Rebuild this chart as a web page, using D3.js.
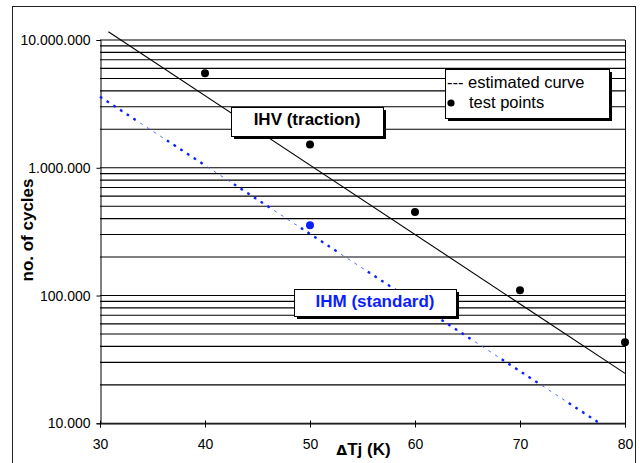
<!DOCTYPE html>
<html>
<head>
<meta charset="utf-8">
<script src="https://cdn.jsdelivr.net/npm/d3@7"></script>
<style>
  body { margin: 0; background: #fff; }
  svg { display: block; font-family: "Liberation Sans", Arial, sans-serif; }
</style>
</head>
<body>
<svg id="chart" width="640" height="463"></svg>
<script>
// test points (IHV traction modules)
var testDT = [40, 50, 60, 70, 80];
var testCycles = [5500000, 1520000, 450000, 110000, 43000];
// test point for the standard module
var stdDT = [50];
var stdCycles = [355000];
// estimated curves (end points, straight in log scale)
var ihvDT = [30.8, 80];
var ihvCycles = [11600000, 24600];
var ihmDT = [30, 77.6];
var ihmCycles = [3600000, 10000];
// axis ticks
var xTicks = [30, 40, 50, 60, 70, 80];
var yTicks = [10000, 100000, 1000000, 10000000];

var svg = d3.select("#chart");
var blue = "#0a1eff";

// outer chart frame
svg.append("rect").attr("x", 12.5).attr("y", 6.5).attr("width", 623).attr("height", 480)
  .attr("fill", "#fff").attr("stroke", "#222").attr("stroke-width", 1);

var x = d3.scaleLinear().domain([30, 80]).range([100, 625]);
var y = d3.scaleLog().domain([10000, 10000000]).range([423.3, 40]);

var loc = d3.formatLocale({ decimal: ",", thousands: ".", grouping: [3], currency: ["", ""] });
var fmt = loc.format(",d");

// horizontal grid lines, every 1..9 of each decade
svg.append("g").selectAll("line").data(y.ticks()).enter().append("line")
  .attr("x1", 100).attr("x2", 625)
  .attr("y1", d => y(d)).attr("y2", d => y(d))
  .attr("stroke", "#000").attr("stroke-width", 1.1);

// plot frame right
svg.append("line").attr("x1", 625.5).attr("x2", 625.5).attr("y1", 40).attr("y2", 423.3)
  .attr("stroke", "#000");

// y axis
var yAxis = svg.append("g").attr("transform", "translate(100.5,0)")
  .call(d3.axisLeft(y).tickValues(yTicks).tickFormat(fmt).tickSize(4).tickPadding(6));
yAxis.select(".domain").attr("stroke", "#000");
yAxis.selectAll("text").attr("font-size", 14).attr("fill", "#000")
  .attr("font-family", "Liberation Sans, Arial, sans-serif");

// x axis, ticks cross the axis line
var xAxis = svg.append("g").attr("transform", "translate(0,423.5)")
  .call(d3.axisBottom(x).tickValues(xTicks).tickSize(4).tickPadding(12));
xAxis.select(".domain").attr("stroke", "#000");
xAxis.selectAll(".tick line").attr("y1", -3);
xAxis.selectAll("text").attr("font-size", 14).attr("fill", "#000")
  .attr("font-family", "Liberation Sans, Arial, sans-serif");

var line = d3.line().x(d => x(d[0])).y(d => y(d[1]));

// IHV estimated curve
svg.append("path").datum(d3.zip(ihvDT, ihvCycles)).attr("d", line)
  .attr("fill", "none").attr("stroke", "#000").attr("stroke-width", 1.1);

// IHM estimated curve: thin dashes with runs of heavier dots
var ihm = d3.zip(ihmDT, ihmCycles);
svg.append("path").datum(ihm).attr("d", line)
  .attr("fill", "none").attr("stroke", "#3d5cff").attr("stroke-width", 0.9)
  .attr("stroke-dasharray", "3,5");
svg.append("path").datum(ihm).attr("d", line)
  .attr("fill", "none").attr("stroke", blue).attr("stroke-width", 2.4)
  .attr("stroke-dasharray", "2.5,5.5,2.5,5.5,2.5,5.5,2.5,5.5,2.5,5.5,2.5,37.5");

// test points
svg.append("g").selectAll("circle").data(d3.zip(testDT, testCycles)).enter().append("circle")
  .attr("cx", d => x(d[0])).attr("cy", d => y(d[1])).attr("r", 4).attr("fill", "#000");
svg.append("g").selectAll("circle").data(d3.zip(stdDT, stdCycles)).enter().append("circle")
  .attr("cx", d => x(d[0])).attr("cy", d => y(d[1])).attr("r", 4).attr("fill", blue);

// label boxes with drop shadow
function box(x0, y0, w, h) {
  svg.append("rect").attr("x", x0 + 3).attr("y", y0 + 3).attr("width", w).attr("height", h).attr("fill", "#000");
  svg.append("rect").attr("x", x0 + 0.5).attr("y", y0 + 0.5).attr("width", w).attr("height", h)
    .attr("fill", "#fff").attr("stroke", "#000").attr("stroke-width", 1);
}

box(231, 107, 152, 29);
svg.append("text").attr("x", 307).attr("y", 124.5).attr("text-anchor", "middle")
  .attr("font-size", 17).attr("font-weight", "bold").text("IHV (traction)");

box(294, 289, 162, 27);
svg.append("text").attr("x", 375).attr("y", 306.5).attr("text-anchor", "middle")
  .attr("font-size", 17).attr("font-weight", "bold").attr("fill", blue).text("IHM (standard)");

// legend
box(445, 69, 164, 49);
svg.append("text").attr("x", 447).attr("y", 87.5).attr("font-size", 16.5).text("--- estimated curve");
svg.append("circle").attr("cx", 451).attr("cy", 103).attr("r", 3.6).attr("fill", "#000");
svg.append("text").attr("x", 469).attr("y", 107.5).attr("font-size", 16.5).text("test points");

// axis titles
svg.append("text").attr("transform", "translate(33,230) rotate(-90)").attr("text-anchor", "middle")
  .attr("font-size", 17).attr("font-weight", "bold").text("no. of cycles");

var xt = svg.append("text").attr("x", 363.5).attr("y", 454.5).attr("text-anchor", "middle")
  .attr("font-size", 17).attr("font-weight", "bold");
xt.append("tspan").attr("font-size", 14).attr("font-family", "DejaVu Sans, sans-serif").text("\u0394");
xt.append("tspan").text("Tj (K)");
</script>
</body>
</html>
